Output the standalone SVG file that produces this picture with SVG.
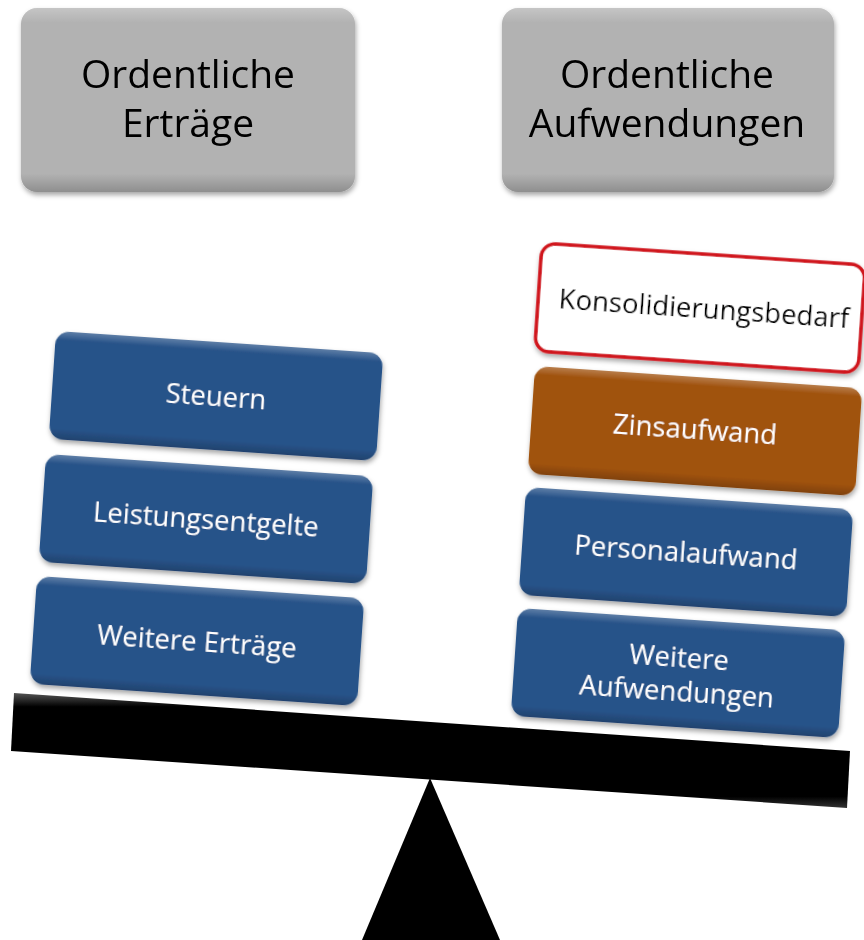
<svg xmlns="http://www.w3.org/2000/svg" width="864" height="940" viewBox="0 0 864 940">
<defs>
<filter id="sh" x="-10%" y="-10%" width="120%" height="130%">
<feDropShadow dx="1" dy="3" stdDeviation="2.5" flood-color="#000" flood-opacity="0.35"/>
</filter>
<linearGradient id="bev" x1="0" y1="0" x2="0" y2="1">
<stop offset="0" stop-color="#fff" stop-opacity="0.25"/>
<stop offset="0.08" stop-color="#fff" stop-opacity="0"/>
<stop offset="0.9" stop-color="#000" stop-opacity="0"/>
<stop offset="1" stop-color="#000" stop-opacity="0.2"/>
</linearGradient>
<linearGradient id="beamg" x1="0" y1="0" x2="0" y2="1">
<stop offset="0" stop-color="#555"/>
<stop offset="0.12" stop-color="#000"/>
<stop offset="0.9" stop-color="#000"/>
<stop offset="1" stop-color="#333"/>
</linearGradient>
</defs>
<style>
.gray{fill:#b2b2b2}
.blue{fill:#285389}
.orange{fill:#a0520f}
.red{fill:#fff;stroke:#d0141c;stroke-width:3.5}
.bev{fill:url(#bev)}
.t{font-family:"Open Sans","Liberation Sans",sans-serif;text-anchor:middle}
.title{font-size:39px;fill:#000}
.w{font-size:27.5px;fill:#fff}
.k{font-size:27.5px;fill:#000}
</style>
<rect width="864" height="940" fill="#fff"/>

<g id="title-ertraege" filter="url(#sh)">
<rect class="gray" x="21" y="8" width="334" height="184" rx="16"/>
<rect class="bev" x="21" y="8" width="334" height="184" rx="16"/>
<text class="t title" x="188" y="88">Ordentliche</text>
<text class="t title" x="188" y="137">Erträge</text>
</g>

<g id="title-aufwendungen" filter="url(#sh)">
<rect class="gray" x="502" y="8" width="332" height="184" rx="16"/>
<rect class="bev" x="502" y="8" width="332" height="184" rx="16"/>
<text class="t title" x="667" y="88">Ordentliche</text>
<text class="t title" x="667" y="137">Aufwendungen</text>
</g>

<polygon points="430,778 362,940 500,940" fill="#000"/>
<polygon points="14,693 850,751 847,808 11,751" fill="url(#beamg)"/>

<g id="steuern" transform="translate(216,396) rotate(3.9)" filter="url(#sh)">
<rect class="blue" x="-164" y="-54" width="328" height="108" rx="14"/>
<rect class="bev" x="-164" y="-54" width="328" height="108" rx="14"/>
<text class="t w" x="0" y="10">Steuern</text>
</g>

<g id="leistungsentgelte" transform="translate(206,519) rotate(3.9)" filter="url(#sh)">
<rect class="blue" x="-164" y="-54" width="328" height="108" rx="14"/>
<rect class="bev" x="-164" y="-54" width="328" height="108" rx="14"/>
<text class="t w" x="0" y="10">Leistungsentgelte</text>
</g>

<g id="weitere-ertraege" transform="translate(197,641) rotate(3.9)" filter="url(#sh)">
<rect class="blue" x="-164" y="-54" width="328" height="108" rx="14"/>
<rect class="bev" x="-164" y="-54" width="328" height="108" rx="14"/>
<text class="t w" x="0" y="10">Weitere Erträge</text>
</g>

<g id="konsolidierungsbedarf" transform="translate(700,308) rotate(3.9)" filter="url(#sh)">
<rect class="red" x="-162" y="-54" width="324" height="108" rx="14"/>
<text class="t k" x="4" y="10">Konsolidierungsbedarf</text>
</g>

<g id="zinsaufwand" transform="translate(695,431) rotate(3.9)" filter="url(#sh)">
<rect class="orange" x="-164" y="-54" width="328" height="108" rx="14"/>
<rect class="bev" x="-164" y="-54" width="328" height="108" rx="14"/>
<text class="t w" x="0" y="8">Zinsaufwand</text>
</g>

<g id="personalaufwand" transform="translate(686,552) rotate(3.9)" filter="url(#sh)">
<rect class="blue" x="-164" y="-54" width="328" height="108" rx="14"/>
<rect class="bev" x="-164" y="-54" width="328" height="108" rx="14"/>
<text class="t w" x="0" y="10">Personalaufwand</text>
</g>

<g id="weitere-aufwendungen" transform="translate(678,673) rotate(3.9)" filter="url(#sh)">
<rect class="blue" x="-164" y="-54" width="328" height="108" rx="14"/>
<rect class="bev" x="-164" y="-54" width="328" height="108" rx="14"/>
<text class="t w" x="0" y="-6">Weitere</text>
<text class="t w" x="0" y="28">Aufwendungen</text>
</g>

<g id="connectors"/>
</svg>
